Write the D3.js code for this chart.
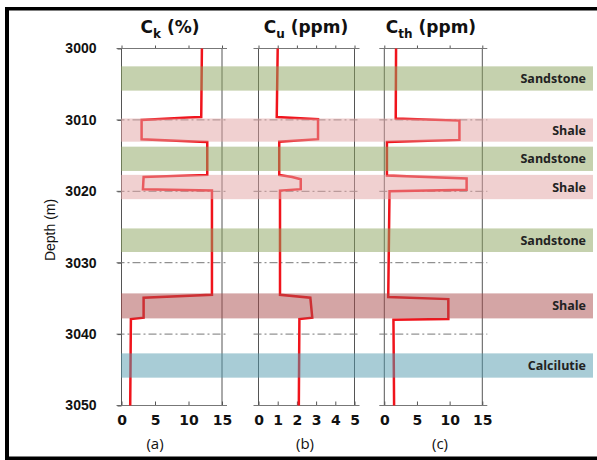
<!DOCTYPE html>
<html><head><meta charset="utf-8">
<script src="https://cdn.jsdelivr.net/npm/d3@7"></script>
<style>body{margin:0;background:#fff}svg{display:block}</style>
</head><body>
<script>
// ---- data ----
const depthDomain = [3000, 3050];
const depthTicks = [3000, 3010, 3020, 3030, 3040, 3050];
const gridDepths = [3010, 3020, 3030, 3040];

const ckDepth = [3000, 3009.6, 3009.65, 3010.0, 3012.7, 3013.05, 3013.1, 3017.7, 3018.0, 3019.7, 3019.9, 3034.5, 3034.9, 3037.7, 3037.9, 3050];
const ckValue = [12.0, 11.9, 10.0, 3.0, 3.0, 11.7, 12.8, 12.8, 3.3, 3.2, 13.5, 13.5, 3.3, 3.3, 1.4, 1.3];

const cuDepth = [3000, 3009.6, 3009.9, 3012.7, 3013.05, 3017.7, 3018.0, 3018.3, 3019.7, 3019.9, 3034.5, 3034.9, 3037.7, 3037.9, 3050];
const cuValue = [1.0, 0.95, 3.1, 3.1, 1.08, 1.08, 1.75, 2.2, 2.2, 1.12, 1.12, 2.7, 2.8, 2.13, 2.1];

const cthDepth = [3000, 3009.8, 3010.1, 3012.8, 3013.1, 3017.8, 3018.2, 3019.8, 3020.0, 3034.8, 3035.1, 3037.9, 3038.0, 3050];
const cthValue = [1.8, 1.75, 11.5, 11.5, 0.4, 0.4, 12.6, 12.6, 0.8, 0.6, 9.8, 9.8, 1.4, 1.5];

const layerTop    = [3002.5, 3009.8, 3013.75, 3017.7, 3025.2, 3034.3, 3042.7];
const layerBottom = [3005.9, 3013.05, 3017.15, 3021.1, 3028.5, 3037.8, 3046.1];
const layerName   = ["Sandstone", "Shale", "Sandstone", "Shale", "Sandstone", "Shale", "Calcilutie"];
const layerKind   = ["sand", "shale", "sand", "shale", "sand", "shale2", "calc"];

const panelTitle = [["C", "k", " (%)"], ["C", "u", " (ppm)"], ["C", "th", " (ppm)"]];
const panelLetter = ["(a)", "(b)", "(c)"];
const panelMax = [15, 5, 15];
const panelTicks = [[0, 5, 10, 15], [0, 1, 2, 3, 4, 5], [0, 5, 10, 15]];

// ---- layout ----
const W = 597, H = 460;
const svg = d3.select("body").append("svg").attr("width", W).attr("height", H);
svg.append("rect").attr("width", W).attr("height", H).attr("fill", "#fff");

const y = d3.scaleLinear().domain(depthDomain).range([48.5, 405.5]);
const panelRange = [[121.5, 222], [258.5, 354.5], [384.3, 482.3]];
const titleX = [170, 306, 431];
const letterX = [155, 305, 440];
const xs = panelRange.map((r, i) => d3.scaleLinear().domain([0, panelMax[i]]).range(r));

const fillColor = {sand: "rgb(139,163,93)", shale: "rgb(225,161,161)", shale2: "rgb(169,75,75)", calc: "rgb(81,153,173)"};

const gLines = svg.append("g");
xs.forEach((x, i) => {
  const [x0, x1] = x.range();
  [x0, x1].forEach(xx => gLines.append("line")
    .attr("x1", xx).attr("x2", xx).attr("y1", y(3000)).attr("y2", y(3050))
    .attr("stroke", "#555").attr("stroke-width", 1));
  gridDepths.forEach(d => gLines.append("line")
    .attr("x1", x0 - 5).attr("x2", x1 + 5).attr("y1", y(d)).attr("y2", y(d))
    .attr("stroke", "#777").attr("stroke-width", 1).attr("stroke-dasharray", "8,3,2,3"));
  const top = gLines.append("g").attr("transform", `translate(0,${y(3000)})`)
    .call(d3.axisTop(x).tickValues(panelTicks[i]).tickSize(3).tickFormat(""));
  top.select(".domain").remove();
  top.selectAll(".tick line").attr("stroke", "#555");
  top.append("line").attr("x1", x0 - 5).attr("x2", x1 + 5).attr("stroke", "#777");
  const bot = gLines.append("g").attr("transform", `translate(0,${y(3050)})`)
    .call(d3.axisBottom(x).tickValues(panelTicks[i]).tickFormat(d3.format("d"))
      .tickSizeInner(-4).tickSizeOuter(0).tickPadding(10));
  bot.select(".domain").remove();
  bot.selectAll(".tick line").attr("stroke", "#555");
  bot.append("line").attr("x1", x0 - 5).attr("x2", x1 + 5).attr("stroke", "#777");
  bot.selectAll(".tick text").attr("font-family", "DejaVu Sans").attr("font-weight", "bold")
    .attr("font-size", 14).attr("fill", "#111");
  const t = svg.append("text").attr("x", titleX[i]).attr("y", 33).attr("text-anchor", "middle")
    .attr("font-family", "DejaVu Sans").attr("font-weight", "bold").attr("font-size", 17).attr("fill", "#111");
  t.append("tspan").text(panelTitle[i][0]);
  t.append("tspan").attr("font-size", 12).attr("dy", 5).text(panelTitle[i][1]);
  t.append("tspan").attr("dy", -5).text(panelTitle[i][2]);
  svg.append("text").attr("x", letterX[i]).attr("y", 449).attr("text-anchor", "middle")
    .attr("font-family", "Open Sans").attr("font-size", 15).attr("fill", "#111").text(panelLetter[i]);
});

const dAx = svg.append("g").attr("transform", `translate(${panelRange[0][0]},0)`)
  .call(d3.axisLeft(y).tickValues(depthTicks).tickSize(4).tickPadding(21).tickFormat(d3.format("d")));
dAx.select(".domain").remove();
dAx.selectAll(".tick line").attr("stroke", "#555");
dAx.selectAll(".tick text").attr("font-family", "Liberation Sans").attr("font-weight", "bold")
  .attr("font-size", 14).attr("fill", "#111");

svg.append("text").attr("transform", `translate(55,230) rotate(-90)`).attr("text-anchor", "middle")
  .attr("font-family", "Liberation Sans").attr("font-size", 14).attr("fill", "#111").text("Depth (m)");

const curves = [[ckValue, ckDepth], [cuValue, cuDepth], [cthValue, cthDepth]];
curves.forEach(([vals, deps], i) => {
  const line = d3.line().x((d, k) => xs[i](vals[k])).y((d, k) => y(deps[k]));
  svg.append("path").datum(vals).attr("d", line).attr("fill", "none")
    .attr("stroke", "#f0141c").attr("stroke-width", 2.5).attr("stroke-linejoin", "miter");
});

const bandX0 = 121, bandX1 = 593;
layerTop.forEach((t, i) => {
  svg.append("rect").attr("x", bandX0).attr("width", bandX1 - bandX0)
    .attr("y", y(t)).attr("height", y(layerBottom[i]) - y(t))
    .attr("fill", fillColor[layerKind[i]]).attr("fill-opacity", 0.5);
  svg.append("text").attr("x", 586).attr("y", (y(t) + y(layerBottom[i])) / 2)
    .attr("dy", "0.36em").attr("text-anchor", "end")
    .attr("font-family", "Open Sans").attr("font-weight", "bold").attr("font-size", 12.5)
    .attr("fill", "#222").text(layerName[i]);
});

svg.append("rect").attr("x", 5).attr("y", 7).attr("width", W - 5).attr("height", 3.5).attr("fill", "#000");
svg.append("rect").attr("x", 5).attr("y", 7).attr("width", 4).attr("height", H - 7).attr("fill", "#000");
svg.append("rect").attr("x", 5).attr("y", 456.5).attr("width", W - 5).attr("height", 3.5).attr("fill", "#000");
</script>
</body></html>
